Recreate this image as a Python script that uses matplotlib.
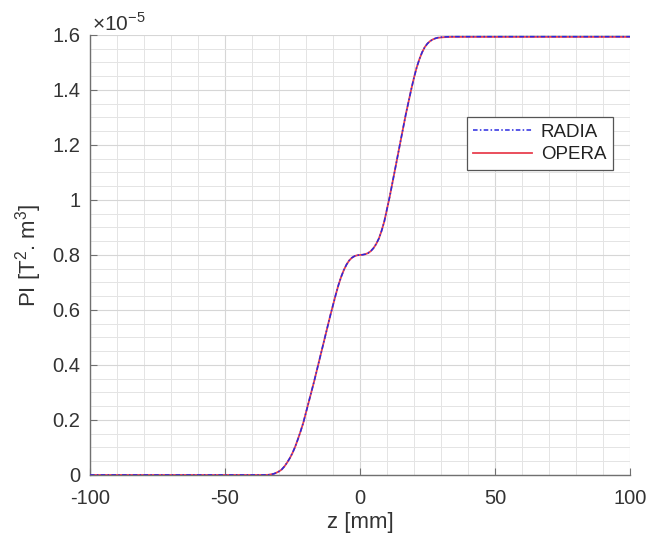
import numpy as np
import matplotlib
matplotlib.use('Agg')
import matplotlib.pyplot as plt
from matplotlib.ticker import MultipleLocator, FuncFormatter

plt.rcParams['font.family'] = ['Liberation Sans', 'DejaVu Sans']
plt.rcParams['mathtext.fontset'] = 'custom'
plt.rcParams['mathtext.rm'] = 'Liberation Sans'

# longitudinal position [mm] and field integral PI [1e-5 T^2.m^3]
z = [-100, -60, -36, -34, -32, -31, -30, -29, -28, -27, -26, -25, -24, -23,
     -22, -21, -19, -17, -15, -13, -11, -9, -8, -7, -6, -5, -4, -3, -2, -1,
     0, 1, 2, 3, 4, 5, 6, 7, 8, 9, 11, 13, 15, 17, 19, 20, 21, 22, 23, 24,
     25, 26, 27, 28, 29, 31, 34, 60, 100]
pi_opera = [0, 0, 0, 0.0005, 0.004, 0.008, 0.013, 0.02, 0.031, 0.045, 0.061,
            0.08, 0.103, 0.13, 0.159, 0.19, 0.265, 0.34, 0.42, 0.50, 0.58,
            0.655, 0.69, 0.72, 0.745, 0.765, 0.78, 0.79, 0.796, 0.799, 0.80,
            0.801, 0.803, 0.807, 0.814, 0.825, 0.84, 0.86, 0.888, 0.922, 1.012,
            1.112, 1.213, 1.313, 1.403, 1.445, 1.482, 1.512, 1.537, 1.556,
            1.569, 1.578, 1.584, 1.588, 1.590, 1.592, 1.593, 1.593, 1.593]
pi_radia = [0, 0, 0, 0.0005, 0.004, 0.008, 0.013, 0.02, 0.031, 0.045, 0.061,
            0.08, 0.103, 0.13, 0.159, 0.19, 0.265, 0.34, 0.42, 0.50, 0.58,
            0.655, 0.69, 0.72, 0.745, 0.765, 0.78, 0.79, 0.796, 0.799, 0.80,
            0.801, 0.803, 0.807, 0.814, 0.825, 0.84, 0.86, 0.888, 0.922, 1.012,
            1.112, 1.213, 1.313, 1.403, 1.445, 1.482, 1.512, 1.537, 1.556,
            1.569, 1.578, 1.584, 1.588, 1.591, 1.593, 1.594, 1.594, 1.594]

scale = 1e-5
z = np.array(z)
radia = np.array(pi_radia) * scale
opera = np.array(pi_opera) * scale

fig = plt.figure(figsize=(6.48, 5.4), dpi=100)
ax = fig.add_axes([0.1389, 0.1204, 0.8333, 0.8148])

ax.plot(z, opera, color='#e8404f', lw=1.3, label='OPERA', zorder=3)
ax.plot(z, radia, color='#2a2ae0', lw=1.1, ls=(0, (3, 1.5, 1, 1.5)),
        label='RADIA', zorder=4)

ax.set_xlim(-100, 100)
ax.set_ylim(0, 1.6e-5)
ax.xaxis.set_major_locator(MultipleLocator(50))
ax.xaxis.set_minor_locator(MultipleLocator(10))
ax.yaxis.set_major_locator(MultipleLocator(0.2e-5))
ax.yaxis.set_minor_locator(MultipleLocator(0.05e-5))
ax.xaxis.set_major_formatter(FuncFormatter(lambda v, p: '%g' % v))
ax.yaxis.set_major_formatter(FuncFormatter(lambda v, p: '%g' % round(v / scale, 3)))

ax.grid(which='major', color='#d6d6d6', lw=0.8)
ax.grid(which='minor', color='#e4e4e4', lw=0.7)
ax.set_axisbelow(True)

for s in ['top', 'right']:
    ax.spines[s].set_visible(False)
for s in ['left', 'bottom']:
    ax.spines[s].set_color('#707070')
    ax.spines[s].set_linewidth(1.0)

ax.tick_params(which='major', direction='in', length=5, width=0.8,
               color='#707070', labelsize=14.5, labelcolor='#333333', pad=7)
ax.tick_params(axis='x', pad=10)
ax.tick_params(which='minor', length=0)

ax.set_xlabel('z [mm]', fontsize=16, color='#333333', labelpad=3)
ax.set_ylabel(r'PI [T$^2$. m$^3$]', fontsize=16, color='#333333', labelpad=6)
ax.text(0.003, 1.0, r'$\times$10$^{-5}$', transform=ax.transAxes,
        fontsize=15, color='#333333', va='bottom', ha='left')

h, l = ax.get_legend_handles_labels()
leg = ax.legend(h[::-1], l[::-1], loc='upper left',
                bbox_to_anchor=(0.698, 0.8136), borderaxespad=0,
                fontsize=13.5, handlelength=3.1, fancybox=False,
                framealpha=1, edgecolor='#555555', borderpad=0.35,
                labelspacing=0.3, handletextpad=0.5)
leg.get_frame().set_linewidth(0.9)
for t in leg.get_texts():
    t.set_color('#222222')

fig.savefig('out.png', dpi=100)
